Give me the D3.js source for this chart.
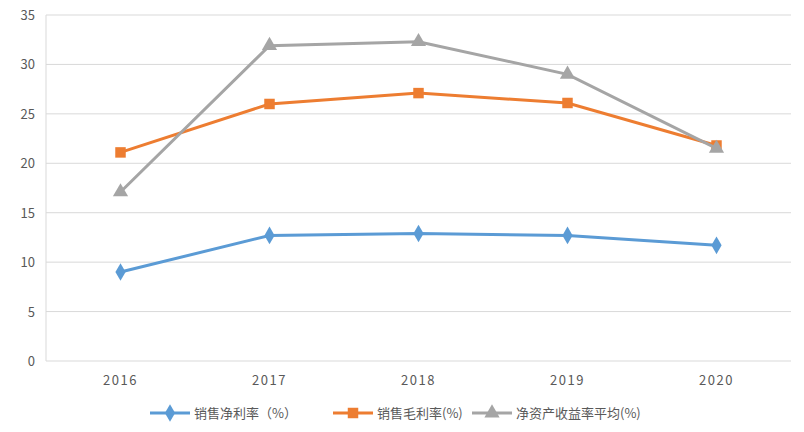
<!DOCTYPE html>
<html><head><meta charset="utf-8">
<script src="https://cdn.jsdelivr.net/npm/d3@7"></script>
<style>body{margin:0;background:#fff;font-family:"Noto Sans CJK SC","Noto Sans",sans-serif;}</style>
</head><body><div id="chart"></div>
<script>
var years = ["2016", "2017", "2018", "2019", "2020"];
var netMargin = [9.0, 12.7, 12.9, 12.7, 11.7];
var grossMargin = [21.1, 26.0, 27.1, 26.1, 21.8];
var roe = [17.1, 31.9, 32.3, 29.0, 21.5];
var yTicks = [0, 5, 10, 15, 20, 25, 30, 35];
var seriesNames = ["销售净利率（%）", "销售毛利率(%)", "净资产收益率平均(%)"];

var width = 804, height = 432;
var svg = d3.select("#chart").append("svg").attr("width", width).attr("height", height);

var x = d3.scaleBand().domain(years).range([46, 791]);
var y = d3.scaleLinear().domain([0, 35]).range([361, 15]);

// grid
svg.selectAll(".grid").data(yTicks).enter().append("line")
  .attr("x1", 46).attr("x2", 791)
  .attr("y1", d => y(d)).attr("y2", d => y(d))
  .attr("stroke", "#d9d9d9").attr("stroke-width", 1);

svg.append("line").attr("x1", 46).attr("x2", 46).attr("y1", 15).attr("y2", 361)
  .attr("stroke", "#d9d9d9");

svg.selectAll(".ytick").data(yTicks).enter().append("text")
  .attr("x", 35).attr("y", d => y(d) + 5).attr("text-anchor", "end")
  .attr("font-size", 13).attr("fill", "#595959").text(d => d);

svg.selectAll(".xtick").data(years).enter().append("text")
  .attr("x", d => x(d) + x.bandwidth() / 2).attr("y", 385).attr("text-anchor", "middle")
  .attr("font-size", 13).attr("letter-spacing", 1.5).attr("fill", "#595959").text(d => d);

var series = [
  {values: netMargin, color: "#5b9bd5", shape: d3.symbolDiamond, size: 90},
  {values: grossMargin, color: "#ed7d31", shape: d3.symbolSquare, size: 110},
  {values: roe, color: "#a5a5a5", shape: d3.symbolTriangle, size: 100}
];

var line = d3.line().x((d, i) => x(years[i]) + x.bandwidth() / 2).y(d => y(d));

series.forEach(function (s) {
  svg.append("path").datum(s.values).attr("d", line)
    .attr("fill", "none").attr("stroke", s.color).attr("stroke-width", 3);
  svg.selectAll(null).data(s.values).enter().append("path")
    .attr("d", d3.symbol().type(s.shape).size(s.size))
    .attr("transform", (d, i) => "translate(" + (x(years[i]) + x.bandwidth() / 2) + "," + y(d) + ")")
    .attr("fill", s.color);
});

// legend
var legendX = [150, 333, 472];
series.forEach(function (s, i) {
  var g = svg.append("g").attr("transform", "translate(" + legendX[i] + ",413)");
  g.append("line").attr("x1", 0).attr("x2", 40).attr("stroke", s.color).attr("stroke-width", 3);
  g.append("path").attr("d", d3.symbol().type(s.shape).size(s.size)).attr("transform", "translate(20,0)").attr("fill", s.color);
  g.append("text").attr("x", 44).attr("y", 5).attr("font-size", 13).attr("fill", "#595959").text(seriesNames[i]);
});
</script></body></html>
